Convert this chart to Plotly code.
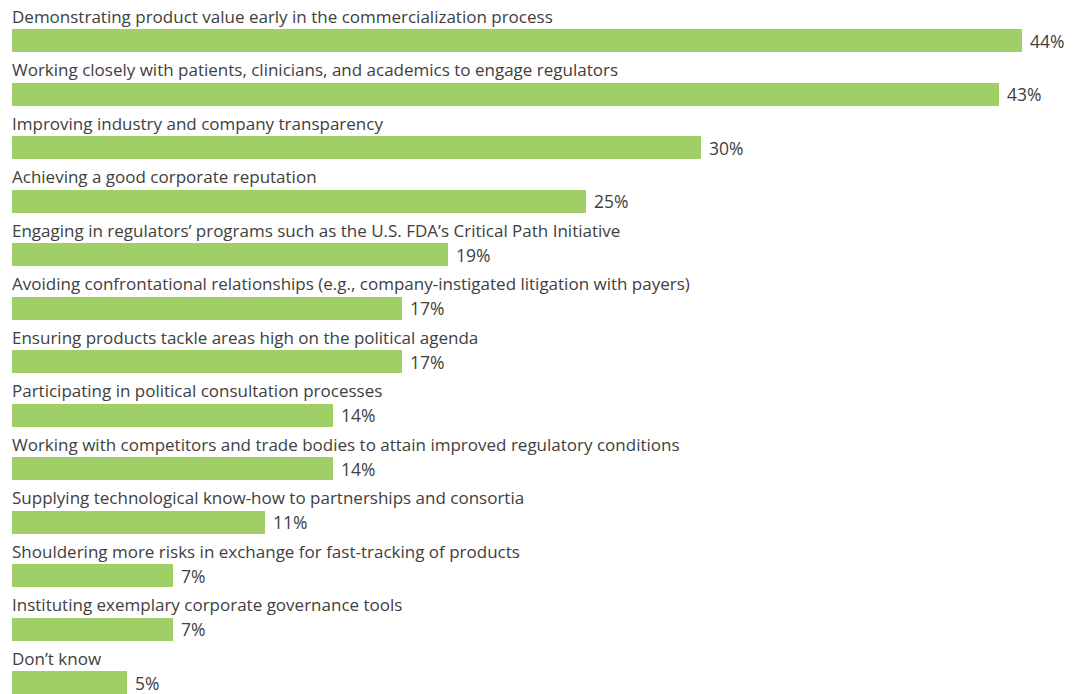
import plotly.graph_objects as go

categories = [
    "Demonstrating product value early in the commercialization process",
    "Working closely with patients, clinicians, and academics to engage regulators",
    "Improving industry and company transparency",
    "Achieving a good corporate reputation",
    "Engaging in regulators\u2019 programs such as the U.S. FDA\u2019s Critical Path Initiative",
    "Avoiding confrontational relationships (e.g., company-instigated litigation with payers)",
    "Ensuring products tackle areas high on the political agenda",
    "Participating in political consultation processes",
    "Working with competitors and trade bodies to attain improved regulatory conditions",
    "Supplying technological know-how to partnerships and consortia",
    "Shouldering more risks in exchange for fast-tracking of products",
    "Instituting exemplary corporate governance tools",
    "Don\u2019t know",
]
values = [44, 43, 30, 25, 19, 17, 17, 14, 14, 11, 7, 7, 5]

BAR_COLOR = "#a0cf67"
TEXT_COLOR = "#404040"
FONT = "Open Sans"

rows = list(range(len(categories)))

fig = go.Figure(
    go.Bar(
        x=values,
        y=rows,
        orientation="h",
        marker=dict(color=BAR_COLOR, line=dict(width=0)),
        width=0.43,
        hoverinfo="skip",
    )
)

annotations = []
for i, (cat, val) in enumerate(zip(categories, values)):
    # category label sits above its bar
    annotations.append(dict(
        x=0, y=i, xref="x", yref="y", text=cat, showarrow=False,
        xanchor="left", yanchor="middle", xshift=-2, yshift=24.5,
        font=dict(family=FONT, size=17, color=TEXT_COLOR),
    ))
    # value label to the right of the bar
    annotations.append(dict(
        x=val, y=i, xref="x", yref="y", text=f"{val}%", showarrow=False,
        xanchor="left", yanchor="middle", xshift=7, yshift=0,
        borderpad=0,
        font=dict(family=FONT, size=17.5, color=TEXT_COLOR),
    ))

fig.update_layout(
    width=1084, height=694,
    margin=dict(l=12, r=0, t=0, b=0),
    paper_bgcolor="white", plot_bgcolor="white",
    showlegend=False,
    bargap=0,
    xaxis=dict(range=[0, 44 * 1072 / 1010], visible=False, fixedrange=True),
    yaxis=dict(range=[(694 - 40.5) / 53.5, -40.5 / 53.5], visible=False, fixedrange=True),
    annotations=annotations,
)

fig.write_html("out.html", config={"displayModeBar": False})
